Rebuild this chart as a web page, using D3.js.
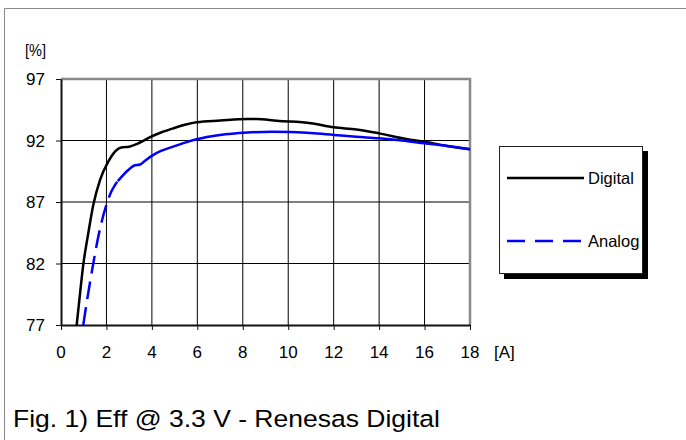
<!DOCTYPE html>
<html><head><meta charset="utf-8">
<script src="https://cdn.jsdelivr.net/npm/d3@7"></script>
<style>body{margin:0;background:#fff}svg{display:block;font-family:"Liberation Sans",Arial,sans-serif}</style>
</head><body>
<svg id="c" width="686" height="440"></svg>
<script>
// ---- data ----
const xTicks = [0, 2, 4, 6, 8, 10, 12, 14, 16, 18];
const yTicks = [77, 82, 87, 92, 97];
const digitalA = [0.69, 0.84, 0.98, 1.2, 1.42, 1.72, 2.08, 2.45, 2.7, 3.0, 3.35, 3.6, 3.9, 4.4, 4.94, 5.5, 5.97, 7.0, 8.2, 8.6, 9.5, 11.0, 12.0, 13.0, 14.0, 15.2, 16.0, 17.0, 18.0];
const digitalEff = [77, 79.6, 81.9, 84.45, 86.75, 88.8, 90.28, 91.23, 91.45, 91.5, 91.72, 91.95, 92.25, 92.65, 92.99, 93.3, 93.48, 93.62, 93.75, 93.75, 93.6, 93.4, 93.07, 92.9, 92.58, 92.12, 91.9, 91.55, 91.28];
const analogA = [0.98, 1.12, 1.28, 1.42, 1.6, 1.79, 2.04, 2.2, 2.35, 2.5, 2.96, 3.2, 3.48, 3.7, 3.99, 4.4, 4.94, 5.5, 5.97, 7.0, 8.2, 9.3, 10.1, 11.0, 12.0, 13.0, 14.0, 15.0, 16.0, 17.0, 18.0];
const analogEff = [77, 78.7, 80.5, 82.0, 83.8, 85.4, 87.0, 87.8, 88.3, 88.7, 89.6, 89.95, 90.05, 90.35, 90.75, 91.15, 91.5, 91.85, 92.1, 92.45, 92.65, 92.72, 92.7, 92.6, 92.45, 92.3, 92.18, 92.0, 91.77, 91.55, 91.28];
const seriesNames = ["Digital", "Analog"];
const yUnit = "[%]", xUnit = "[A]";
const title = "Fig. 1) Eff @ 3.3 V - Renesas Digital";

// ---- layout ----
const svg = d3.select("#c");
const L = 61, R = 470, T = 79, B = 325;
const x = d3.scaleLinear().domain([0, 18]).range([L, R]);
const y = d3.scaleLinear().domain([77, 97]).range([B, T]);
function txt(t, px, py, size, anchor, sy) {
  return svg.append("text").attr("transform", `translate(${px},${py}) scale(1,${sy || 1})`)
    .attr("font-size", size).attr("text-anchor", anchor || "start").attr("fill", "#000").text(t);
}

// outer frame
svg.append("path").attr("d", "M4.5,440 L4.5,8.5 L686,8.5").attr("fill", "none").attr("stroke", "#888").attr("stroke-width", 1);

// grid
svg.append("g").selectAll("line").data(xTicks.slice(1, -1)).join("line")
  .attr("x1", d => x(d)).attr("x2", d => x(d)).attr("y1", T).attr("y2", B)
  .attr("stroke", "#000").attr("stroke-width", 1);
svg.append("g").selectAll("line").data(yTicks.slice(1, -1)).join("line")
  .attr("x1", L).attr("x2", R).attr("y1", d => y(d)).attr("y2", d => y(d))
  .attr("stroke", "#000").attr("stroke-width", 1);

// plot border top/right gray
svg.append("path").attr("d", `M${L},${T} L${R},${T} L${R},${B}`).attr("fill", "none")
  .attr("stroke", "#888").attr("stroke-width", 2.5);

// axes
const xAx = svg.append("g").attr("transform", `translate(0,${B})`)
  .call(d3.axisBottom(x).tickValues(xTicks).tickSize(5).tickSizeOuter(0).tickFormat(""));
const yAx = svg.append("g").attr("transform", `translate(${L},0)`)
  .call(d3.axisLeft(y).tickValues(yTicks).tickSize(5).tickSizeOuter(0).tickFormat(""));
[xAx, yAx].forEach(g => { g.select(".domain").attr("stroke", "#111").attr("stroke-width", 2); g.selectAll(".tick line").attr("stroke", "#111"); });

// tick labels
xTicks.forEach(d => txt(String(d), x(d), 358, 17, "middle"));
yTicks.forEach(d => txt(String(d), 45, y(d) + 6, 17, "end"));
txt(yUnit, 25, 56, 17).attr("textLength", 21).attr("lengthAdjust", "spacingAndGlyphs");
txt(xUnit, 494, 358, 17);

// lines
const line = d3.line().x(d => x(d[0])).y(d => y(d[1])).curve(d3.curveMonotoneX);
const dig = digitalA.map((a, i) => [a, digitalEff[i]]);
const ana = analogA.map((a, i) => [a, analogEff[i]]);
const split = analogA.indexOf(2.5);
svg.append("path").attr("d", line(dig)).attr("fill", "none").attr("stroke", "#000").attr("stroke-width", 2.5);
svg.append("path").attr("d", line(ana.slice(0, split + 1))).attr("fill", "none").attr("stroke", "#0000ff")
  .attr("stroke-width", 2.5).attr("stroke-dasharray", "18,8");
svg.append("path").attr("d", line(ana.slice(split))).attr("fill", "none").attr("stroke", "#0000ff").attr("stroke-width", 2.5);

// legend
svg.append("rect").attr("x", 504).attr("y", 151).attr("width", 144).attr("height", 128).attr("fill", "#000");
svg.append("rect").attr("x", 499.5).attr("y", 146.5).attr("width", 143).attr("height", 127).attr("fill", "#fff").attr("stroke", "#222").attr("stroke-width", 1);
const legY = [178, 241];
const legStyles = [{c: "#000", dash: null}, {c: "#0000ff", dash: "18,10"}];
seriesNames.forEach((n, i) => {
  const l = svg.append("line").attr("x1", 507).attr("x2", 584).attr("y1", legY[i]).attr("y2", legY[i])
    .attr("stroke", legStyles[i].c).attr("stroke-width", 2.5);
  if (legStyles[i].dash) l.attr("stroke-dasharray", legStyles[i].dash);
  txt(n, 588, legY[i] + 6, 16.5);
});

// title
txt(title, 13, 427, 26.5, "start", 0.92);
</script>
</body></html>
